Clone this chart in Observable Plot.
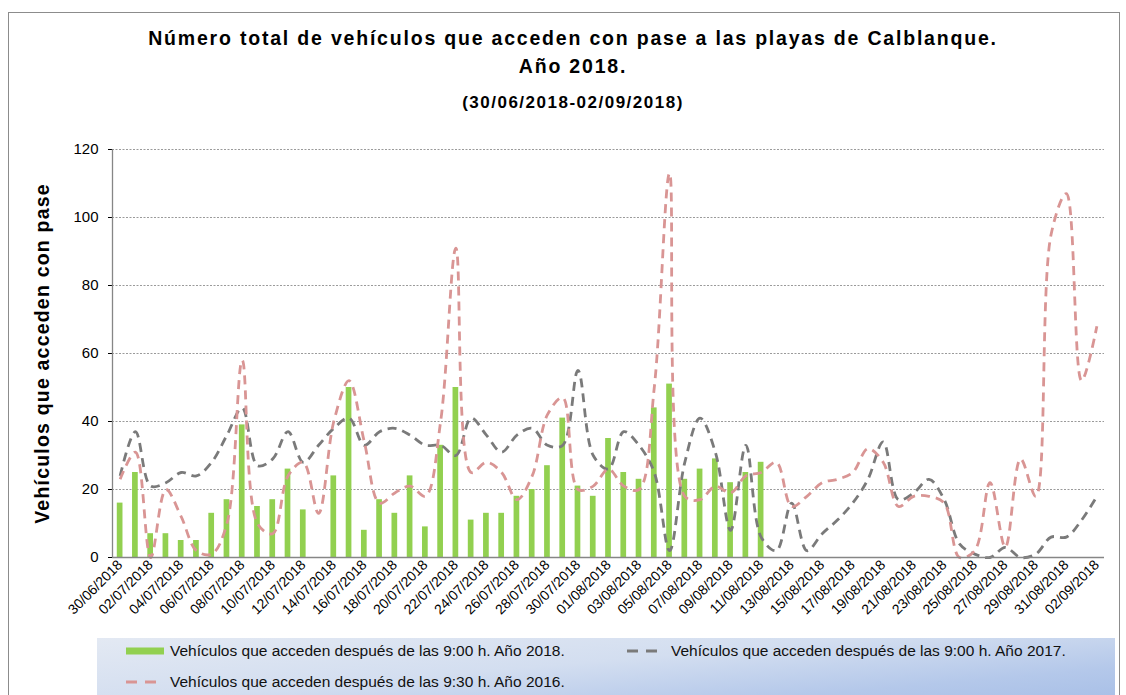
<!DOCTYPE html>
<html>
<head>
<meta charset="utf-8">
<script src="https://cdn.jsdelivr.net/npm/d3@7"></script>
<script src="https://cdn.jsdelivr.net/npm/@observablehq/plot@0.6"></script>
<style>
  html, body { margin: 0; padding: 0; background: #fff; }
  body { width: 1126px; height: 695px; position: relative; overflow: hidden; font-family: "Liberation Sans", Arial, sans-serif; }
  #frame { position: absolute; left: 8px; top: 12px; width: 1112px; height: 720px; border: 1px solid #8c8c8c; box-sizing: border-box; }
  .t { position: absolute; left: 0; width: 1146px; text-align: center; font-weight: bold; color: #000; white-space: nowrap; }
  #chart { position: absolute; left: 0; top: 120px; }
  #legend { position: absolute; left: 97px; top: 638px; width: 1018px; height: 60px;
    background: linear-gradient(175deg, #e3e9f3 0%, #d3def0 45%, #b4c8ea 80%, #a9c0e7 100%); }
  .li { position: absolute; font-size: 15.5px; color: #111; white-space: nowrap; display: flex; align-items: center; }
  .li svg { margin-right: 6px; }
</style>
</head>
<body>
<div id="frame"></div>
<div class="t" id="title1" style="top:27px;font-size:19.5px;letter-spacing:1.8px;">Número total de vehículos que acceden con pase a las playas de Calblanque.</div>
<div class="t" id="title2" style="top:55px;font-size:19.5px;letter-spacing:1.8px;">Año 2018.</div>
<div class="t" id="subtitle" style="top:93px;font-size:17px;letter-spacing:1.5px;">(30/06/2018-02/09/2018)</div>
<div id="chart"></div>
<div id="legend"></div>
<script>
const dates = [
  "30/06/2018","01/07/2018","02/07/2018","03/07/2018","04/07/2018","05/07/2018","06/07/2018","07/07/2018",
  "08/07/2018","09/07/2018","10/07/2018","11/07/2018","12/07/2018","13/07/2018","14/07/2018","15/07/2018",
  "16/07/2018","17/07/2018","18/07/2018","19/07/2018","20/07/2018","21/07/2018","22/07/2018","23/07/2018",
  "24/07/2018","25/07/2018","26/07/2018","27/07/2018","28/07/2018","29/07/2018","30/07/2018","31/07/2018",
  "01/08/2018","02/08/2018","03/08/2018","04/08/2018","05/08/2018","06/08/2018","07/08/2018","08/08/2018",
  "09/08/2018","10/08/2018","11/08/2018","12/08/2018","13/08/2018","14/08/2018","15/08/2018","16/08/2018",
  "17/08/2018","18/08/2018","19/08/2018","20/08/2018","21/08/2018","22/08/2018","23/08/2018","24/08/2018",
  "25/08/2018","26/08/2018","27/08/2018","28/08/2018","29/08/2018","30/08/2018","31/08/2018","01/09/2018",
  "02/09/2018"
];
// Vehículos que acceden después de las 9:00 h. Año 2018 (bars)
const v2018 = [16,25,7,7,5,5,13,17,39,15,17,26,14,null,24,50,8,17,13,24,9,33,50,11,13,13,18,20,27,41,21,18,
  35,25,23,44,51,23,26,29,22,25,28];
// Vehículos que acceden después de las 9:00 h. Año 2017 (gray dashed)
const v2017 = [24,37,21,22,25,24,28,36,44,27,29,37,28,33,38,41,33,37,38,36,33,33,30,41,36,31,36,38,33,33,55,30,
  26,37,33,25,2,28,41,31,8,33,6,2,16,2,7,11,16,23,34,17,19,23,17,4,1,0,3,0,1,6,6,11,18];
// Vehículos que acceden después de las 9:30 h. Año 2016 (pink dashed)
const v2016 = [23,31,0,20,12,2,1,10,58,10,7,24,28,13,40,52,34,16,19,21,18,40,91,25,28,25,17,24,42,47,20,21,
  26,21,20,50,113,18,17,21,19,24,25,28,15,18,22,23,25,32,28,15,18,18,16,0,2,22,3,29,18,95,107,52,68];
const yTicks = [0,20,40,60,80,100,120];
const xTickLabels = dates.filter((d, i) => i % 2 === 0);
const yTitle = "Vehículos que acceden con pase";
const seriesNames = [
  "Vehículos que acceden después de las 9:00 h. Año 2018.",
  "Vehículos que acceden después de las 9:00 h. Año 2017.",
  "Vehículos que acceden después de las 9:30 h. Año 2016."
];
const colors = { c2018: "#92d050", c2017: "#7a7a7a", c2016: "#d99594" };

const bars = v2018.map((v, i) => ({date: dates[i], v})).filter(d => d.v != null);
const l2017 = v2017.map((v, i) => ({date: dates[i], v}));
const l2016 = v2016.map((v, i) => ({date: dates[i], v}));

const W = 1126, H = 510, mL = 112, mR = 22, mT = 29, mB = 73;
const step = (W - mL - mR) / dates.length;
const barW = 5.7;
const inset = (step - barW) / 2;

const plot = Plot.plot({
  width: W, height: H,
  marginLeft: mL, marginRight: mR, marginTop: mT, marginBottom: mB,
  style: { fontFamily: "'Liberation Sans', Arial, sans-serif", fontSize: "14px", color: "#000", background: "transparent", overflow: "visible" },
  x: { type: "band", domain: dates, padding: 0, round: false, ticks: xTickLabels, tickRotate: -45, tickSize: 0, tickPadding: 5, label: null },
  y: { domain: [0, 120], ticks: yTicks, tickSize: 4, tickPadding: 10, label: null },
  marks: [
    Plot.ruleY(yTicks.filter(t => t > 0), { stroke: "#9a9a9a", strokeWidth: 1, strokeDasharray: "2,1.5" }),
    Plot.barY(bars, { x: "date", y: "v", fill: colors.c2018, insetLeft: inset, insetRight: inset }),
    Plot.line(l2017, { x: "date", y: "v", curve: "catmull-rom", stroke: colors.c2017, strokeWidth: 2.8, strokeDasharray: "9,6", strokeLinecap: "butt" }),
    Plot.line(l2016, { x: "date", y: "v", curve: "catmull-rom", stroke: colors.c2016, strokeWidth: 2.8, strokeDasharray: "9,6", strokeLinecap: "butt" }),
    Plot.ruleY([0], { stroke: "#868686", strokeWidth: 1.3 }),
    Plot.ruleX([dates[0]], { dx: -step / 2, y1: 0, y2: 120, stroke: "#868686", strokeWidth: 1.3 }),
    Plot.text([yTitle], { frameAnchor: "left", textAnchor: "middle", rotate: -90, dx: -70, fontSize: 19.5, fontWeight: "bold", fill: "#000" })
  ]
});
d3.select(plot).selectAll("text").filter(function() { return this.textContent === yTitle; }).attr("letter-spacing", "1.2px");
d3.select(plot).selectAll("g[aria-label='y-axis tick label'] text, g[aria-label='y-axis'] text").style("font-size", "15px");
document.getElementById("chart").appendChild(plot);

// Legend
const legend = document.getElementById("legend");
function item(left, top, swatch, text) {
  const d = document.createElement("div");
  d.className = "li";
  d.style.left = left + "px";
  d.style.top = top + "px";
  d.innerHTML = swatch + "<span>" + text + "</span>";
  legend.appendChild(d);
}
const sw = (c, dashed) => dashed
  ? `<svg width="38" height="10"><line x1="0" y1="5" x2="38" y2="5" stroke="${c}" stroke-width="3" stroke-dasharray="11,8"/></svg>`
  : `<svg width="38" height="10"><rect x="0" y="1.5" width="38" height="7" fill="${c}"/></svg>`;
item(29, 4, sw(colors.c2018, false), seriesNames[0]);
item(530, 4, sw(colors.c2017, true), seriesNames[1]);
item(29, 35, sw(colors.c2016, true), seriesNames[2]);
</script>
</body>
</html>
